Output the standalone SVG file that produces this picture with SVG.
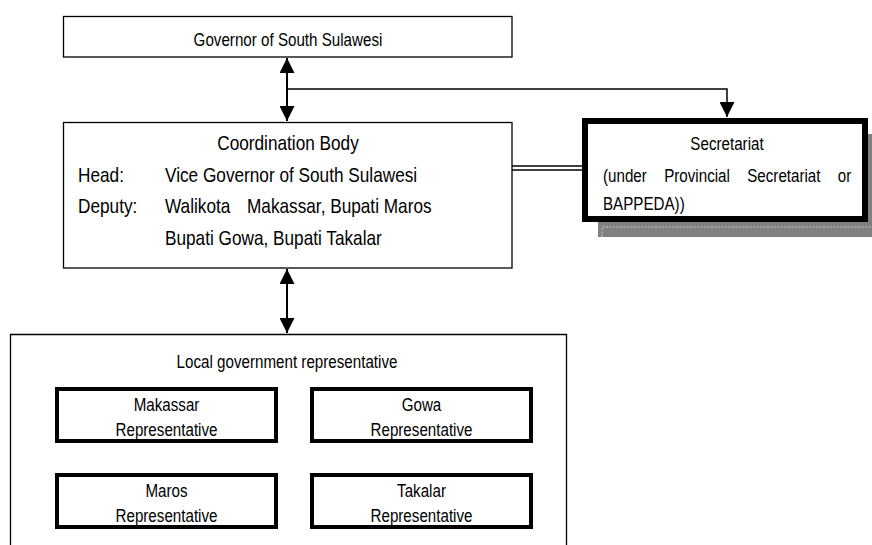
<svg xmlns="http://www.w3.org/2000/svg" width="872" height="545" viewBox="0 0 872 545">
  <style>
    .box { fill: #fff; stroke: #000; stroke-width: 1.3; }
    .thick { fill: #fff; stroke: #000; stroke-width: 4; }
    .sec { fill: #fff; stroke: #000; stroke-width: 6; }
    .t { font-family: "Liberation Sans", Arial, sans-serif; fill: #000; }
    .s18 { font-size: 18.5px; }
    .s21 { font-size: 21px; }
    .mid { text-anchor: middle; }
    .wire { fill: none; stroke: #000; }
  </style>
  <defs>
    <marker id="arrow" viewBox="0 0 10 10" refX="10" refY="5" markerUnits="userSpaceOnUse" markerWidth="15" markerHeight="15" orient="auto-start-reverse">
      <path d="M0,0 L10,5 L0,10 z" fill="#000"/>
    </marker>
  </defs>

  <rect width="872" height="545" fill="#fff"/>

  <!-- connectors -->
  <g id="connectors">
    <line class="wire" x1="287" y1="58" x2="287" y2="121" stroke-width="2" marker-start="url(#arrow)" marker-end="url(#arrow)"/>
    <path class="wire" d="M287,89 H727 V117" stroke-width="1.5" marker-end="url(#arrow)"/>
    <line class="wire" x1="287" y1="269" x2="287" y2="333" stroke-width="2" marker-start="url(#arrow)" marker-end="url(#arrow)"/>
    <line class="wire" x1="512" y1="166" x2="582" y2="166" stroke-width="1.3"/>
    <line class="wire" x1="512" y1="170" x2="582" y2="170" stroke-width="1.3"/>
  </g>

  <!-- Governor -->
  <g id="governor">
    <rect class="box" x="63.5" y="16.5" width="448.5" height="40.5"/>
    <text class="t s18 mid" transform="translate(288,46) scale(0.82,1)">Governor of South Sulawesi</text>
  </g>

  <!-- Coordination body -->
  <g id="coordination-body">
    <rect class="box" x="63.5" y="122.5" width="448.5" height="145.5"/>
    <text class="t s21 mid" transform="translate(288,150) scale(0.82,1)">Coordination Body</text>
    <text class="t s21" transform="translate(78,182) scale(0.82,1)">Head:</text>
    <text class="t s21" transform="translate(165,182) scale(0.82,1)">Vice Governor of South Sulawesi</text>
    <text class="t s21" transform="translate(78,213) scale(0.82,1)">Deputy:</text>
    <text class="t s21" transform="translate(165,213) scale(0.82,1)">Walikota</text>
    <text class="t s21" transform="translate(247,213) scale(0.82,1)">Makassar, Bupati Maros</text>
    <text class="t s21" transform="translate(165,245) scale(0.82,1)">Bupati Gowa, Bupati Takalar</text>
  </g>

  <!-- Secretariat with drop shadow -->
  <g id="secretariat">
    <rect x="598" y="134" width="290" height="103" fill="#808080"/>
    <path d="M602,237 V227 H872" fill="none" stroke="#d8d8d8" stroke-width="0.8" stroke-dasharray="2,1.5"/>
    <rect class="sec" x="585" y="121" width="280" height="98"/>
    <text class="t s18 mid" transform="translate(727,150) scale(0.82,1)">Secretariat</text>
    <text class="t s18" transform="translate(603,182) scale(0.82,1)" word-spacing="16">(under Provincial Secretariat or</text>
    <text class="t s18" transform="translate(603,210) scale(0.82,1)">BAPPEDA))</text>
  </g>

  <!-- Local government representative -->
  <g id="local-government">
    <path class="wire" d="M10.5,545 V334.5 H566.5 V545" stroke-width="1.3"/>
    <text class="t s18 mid" transform="translate(287,368) scale(0.82,1)">Local government representative</text>
  </g>

  <g id="makassar">
    <rect class="thick" x="57" y="389" width="219" height="52"/>
    <text class="t s18 mid" transform="translate(166.5,411) scale(0.82,1)">Makassar</text>
    <text class="t s18 mid" transform="translate(166.5,436) scale(0.82,1)">Representative</text>
  </g>

  <g id="gowa">
    <rect class="thick" x="312" y="389" width="219" height="52"/>
    <text class="t s18 mid" transform="translate(421.5,411) scale(0.82,1)">Gowa</text>
    <text class="t s18 mid" transform="translate(421.5,436) scale(0.82,1)">Representative</text>
  </g>

  <g id="maros">
    <rect class="thick" x="57" y="475" width="219" height="52"/>
    <text class="t s18 mid" transform="translate(166.5,497) scale(0.82,1)">Maros</text>
    <text class="t s18 mid" transform="translate(166.5,522) scale(0.82,1)">Representative</text>
  </g>

  <g id="takalar">
    <rect class="thick" x="312" y="475" width="219" height="52"/>
    <text class="t s18 mid" transform="translate(421.5,497) scale(0.82,1)">Takalar</text>
    <text class="t s18 mid" transform="translate(421.5,522) scale(0.82,1)">Representative</text>
  </g>
</svg>
